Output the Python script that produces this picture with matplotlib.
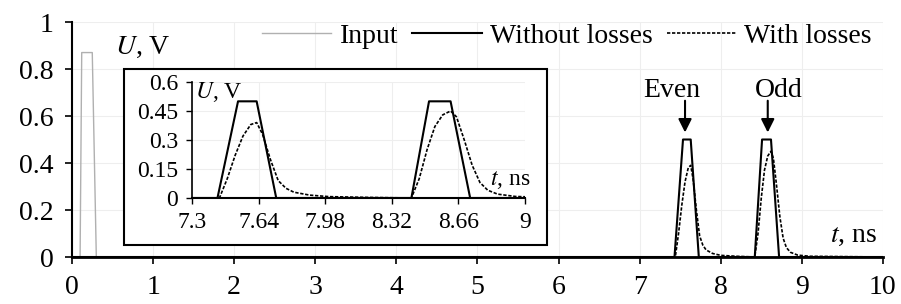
import numpy as np
import matplotlib.pyplot as plt
from matplotlib.patches import Rectangle

plt.rcParams['font.family'] = ['Liberation Serif', 'DejaVu Serif']

# input pulse
t_in = [0, 0.10, 0.12, 0.25, 0.30, 10]
u_in = [0, 0, 0.87, 0.87, 0, 0]

# without losses
t_nl = [0, 7.43, 7.535, 7.63, 7.73, 8.42, 8.51, 8.62, 8.72, 10]
u_nl = [0, 0, 0.5, 0.5, 0, 0, 0.5, 0.5, 0, 0]

# with losses
t_wl = [0, 7.44, 7.48, 7.52, 7.56, 7.60, 7.63, 7.66, 7.70, 7.74, 7.78, 7.82, 7.90, 8.00, 8.20,
        8.42, 8.46, 8.50, 8.54, 8.58, 8.62, 8.65, 8.69, 8.73, 8.77, 8.81, 8.86, 8.95, 9.10, 10]
u_wl = [0, 0, 0.10, 0.22, 0.32, 0.38, 0.39, 0.33, 0.20, 0.09, 0.05, 0.03, 0.015, 0.007, 0.003,
        0, 0.10, 0.25, 0.37, 0.43, 0.45, 0.42, 0.30, 0.17, 0.08, 0.04, 0.02, 0.008, 0.003, 0]

main_xticks = [0, 1, 2, 3, 4, 5, 6, 7, 8, 9, 10]
main_yticks = [0, 0.2, 0.4, 0.6, 0.8, 1]
main_ylabels = ['0', '0.2', '0.4', '0.6', '0.8', '1']
ins_xticks = [7.3, 7.64, 7.98, 8.32, 8.66, 9]
ins_xlabels = ['7.3', '7.64', '7.98', '8.32', '8.66', '9']
ins_yticks = [0, 0.15, 0.3, 0.45, 0.6]
ins_ylabels = ['0', '0.15', '0.3', '0.45', '0.6']

# pulse markers: label, arrow x, text x
marks = [('Even', 7.56, 7.40), ('Odd', 8.58, 8.71)]

fig = plt.figure(figsize=(9.01, 3.04), dpi=100)
ax = fig.add_axes([0.0799, 0.1546, 0.900, 0.773])

ax.plot(t_in, u_in, color='#b0b0b0', lw=1.0, label='Input')
ax.plot(t_nl, u_nl, color='black', lw=1.5, label='Without losses')
ax.plot(t_wl, u_wl, color='black', lw=1.2, ls=(0, (2, 1)), label='With losses')

ax.set_xlim(0, 10)
ax.set_ylim(0, 1)
ax.set_xticks(main_xticks)
ax.set_yticks(main_yticks)
ax.set_yticklabels(main_ylabels)
ax.grid(True, color='#eeeeee', lw=0.8)
ax.set_axisbelow(True)
for s in ['top', 'right']:
    ax.spines[s].set_visible(False)
ax.spines['bottom'].set_linewidth(2)
ax.spines['left'].set_linewidth(1.5)
ax.tick_params(labelsize=20, length=5, width=1.2, pad=8)

ax.legend(loc='upper right', bbox_to_anchor=(1.0, 1.04), ncol=3, frameon=False,
          fontsize=20, handlelength=2.5, handletextpad=0.3, columnspacing=0.5,
          borderaxespad=0)

for name, xa, xt in marks:
    ax.text(xt, 0.71, name, ha='center', va='center', fontsize=20)
    ax.annotate('', xy=(xa, 0.53), xytext=(xa, 0.665),
                arrowprops=dict(arrowstyle='-|>', color='black', lw=1.5,
                                mutation_scale=20, shrinkA=0, shrinkB=0))

fig.text(115 / 901, 1 - 47 / 304, r'$U$, V', fontsize=20, va='center', ha='left',
         math_fontfamily='stix')
fig.text(830 / 901, 1 - 235 / 304, r'$t$, ns', fontsize=20, va='center', ha='left',
         math_fontfamily='stix')

# inset frame
fig.patches.append(Rectangle((124 / 901, 1 - 245 / 304), 423 / 901, 176 / 304,
                             transform=fig.transFigure, fill=True, facecolor='white',
                             edgecolor='black', lw=1.5, zorder=2))

ins = fig.add_axes([0.2131, 0.3487, 0.3696, 0.3816])
ins.set_zorder(3)
ins.plot(t_nl, u_nl, color='black', lw=1.5)
ins.plot(t_wl, u_wl, color='black', lw=1.2, ls=(0, (2, 1)))
ins.set_xlim(7.3, 9)
ins.set_ylim(0, 0.6)
ins.set_xticks(ins_xticks)
ins.set_xticklabels(ins_xlabels)
ins.set_yticks(ins_yticks)
ins.set_yticklabels(ins_ylabels)
ins.grid(True, color='#eeeeee', lw=0.8)
ins.set_axisbelow(True)
for s in ['top', 'right']:
    ins.spines[s].set_visible(False)
ins.spines['bottom'].set_linewidth(1.5)
ins.spines['left'].set_linewidth(1.2)
ins.tick_params(labelsize=17, length=4, width=1, pad=6)
ins.text(195 / 901, 1 - 92 / 304, r'$U$, V', transform=fig.transFigure, fontsize=17,
         va='center', ha='left', math_fontfamily='stix')
ins.text(490 / 901, 1 - 180 / 304, r'$t$, ns', transform=fig.transFigure, fontsize=17,
         va='center', ha='left', math_fontfamily='stix')

fig.savefig('out.png', dpi=100)
